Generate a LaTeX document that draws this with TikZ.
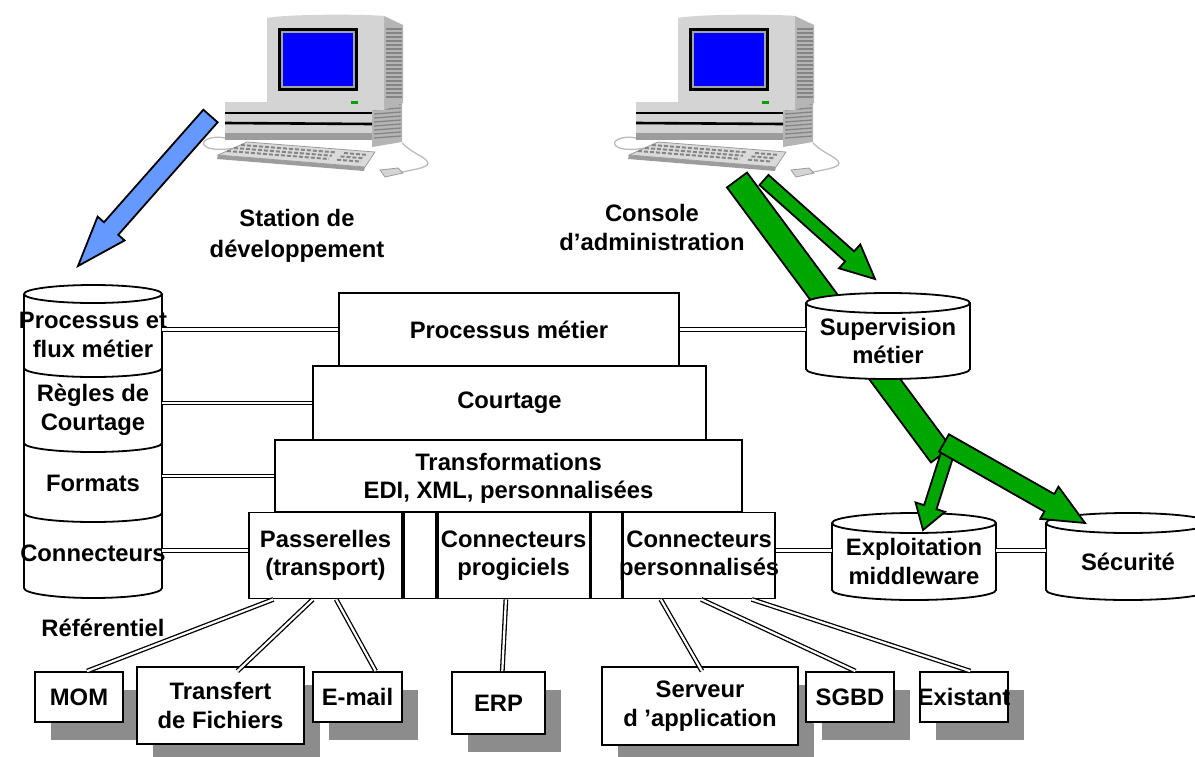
\documentclass[tikz,border=0pt]{standalone}
\usepackage{fontspec}
\setmainfont{Liberation Sans}
\usepackage{tikz}
\usetikzlibrary{positioning,calc,shadows}
\definecolor{ArrowBlue}{HTML}{6699FF}
\definecolor{ArrowGreen}{HTML}{00A600}
\definecolor{ShadowGray}{HTML}{8C8C8C}
\definecolor{ScreenBlue}{HTML}{0000FF}
\definecolor{LedGreen}{HTML}{00A000}
\definecolor{CaseLight}{HTML}{D4D4D4}
\definecolor{CaseSide}{HTML}{B5B5B5}
\definecolor{CaseDark}{HTML}{9C9C9C}
\definecolor{VentGray}{HTML}{858585}
\definecolor{BezelGray}{HTML}{A5A5A5}
\definecolor{KeyGray}{HTML}{DADADA}
\definecolor{CableGray}{HTML}{BBBBBB}

% fat outlined arrow: colour, tail, tip, half shaft, half head, head length
\newcommand\fatarrow[6]{%
  \coordinate (fa-base) at ($#3!#6!#2$);
  \filldraw[fill=#1,draw=black,line width=1.8pt,line join=miter]
    ($#2!#4!90:#3$) -- ($(fa-base)!#4!90:#3$) -- ($(fa-base)!#5!90:#3$) -- #3
    -- ($(fa-base)!#5!-90:#3$) -- ($(fa-base)!#4!-90:#3$) -- ($#2!#4!-90:#3$) -- cycle;}
% fat bar without head: colour, from, to, half width
\newcommand\fatbar[4]{%
  \filldraw[fill=#1,draw=black,line width=1.8pt]
    ($#2!#4!90:#3$) -- ($#3!#4!-90:#2$) -- ($#3!#4!90:#2$) -- ($#2!#4!-90:#3$) -- cycle;}
% database drum: name, centre x, top y, bottom y, x radius, y radius, text
\newcommand\dbcyl[7]{%
  \draw[line width=1.8pt,fill=white] ({#2-#5},#3) -- ({#2-#5},#4)
    arc[start angle=180,end angle=0,x radius=#5,y radius=#6] -- ({#2+#5},#3)
    arc[start angle=0,end angle=-180,x radius=#5,y radius=#6] -- cycle
    ({#2-#5},#3) arc[start angle=180,end angle=0,x radius=#5,y radius=#6];
  \node[align=center,inner sep=0pt,minimum width={2*#5},minimum height={#4-#3}]
    (#1) at (#2,{(#3+#4)/2+#6/2}) {#7};}

\tikzset{
  computer/.pic={
    % system unit
    \fill[CaseSide] (105,91) -- (135,87) -- (135,129) -- (105,134) -- cycle;
    \foreach \v in {93,97,...,125} \draw[VentGray,line width=1.3pt] (107,\v) -- (134,\v-2);
    \fill[CaseLight] (-42,89) rectangle (105,127);
    \fill[CaseDark] (-42,120) rectangle (105,127);
    \draw[black,line width=2pt] (-42,100) -- (105,100);
    \draw[black,line width=2.6pt] (-42,110) -- (105,111);
    % monitor
    \fill[CaseSide] (117,3) -- (136,12) -- (136,90) -- (117,97) -- cycle;
    \foreach \v in {16,20,...,86} \draw[VentGray,line width=1.3pt] (119,\v) -- (135,\v);
    \fill[CaseLight] (0,97) -- (0,5) .. controls (20,1) and (97,1) .. (117,3) -- (117,97) -- cycle;
    \fill[black] (11,15) rectangle (91,78);
    \fill[BezelGray] (14,18) rectangle (88,75);
    \fill[ScreenBlue] (16,20) rectangle (86,73);
    \fill[LedGreen] (84,88) rectangle (91,91);
    % keyboard and mouse
    \draw[CableGray,line width=1.3pt] (-42,125) .. controls (-55,122) and (-68,128) .. (-62,133)
      .. controls (-57,138) and (-38,137) .. (-22,133);
    \draw[CableGray,line width=1.3pt] (135,159) .. controls (150,156) and (165,154) .. (160,148)
      .. controls (156,143) and (145,140) .. (135,130);
    \fill[CaseDark] (-49,142) -- (98,154) -- (97,158) -- (-50,146) -- cycle;
    \filldraw[fill=KeyGray,draw=CaseDark,line width=0.8pt] (-20,129) -- (108,139) -- (98,154) -- (-49,142) -- cycle;
    \begin{scope}[VentGray,line width=2pt,dash pattern=on 4pt off 2pt]
      \draw (-26,132) -- (69,139.4);
      \draw (-33,135) -- (65,142.7);
      \draw (-40,138) -- (62,146);
      \draw (77,140) -- (99,141.8);
      \draw (73.5,143.4) -- (96.7,145.3);
      \draw (70,146.7) -- (94,148.6);
    \end{scope}
    \filldraw[fill=CaseLight,draw=CaseDark,line width=0.8pt] (113,157) -- (131,155) -- (136,160) -- (118,164) -- cycle;
  }
}

\begin{document}
\begin{tikzpicture}[x=1pt,y=-1pt,font=\bfseries\fontsize{23.8}{28.5}\selectfont]
  \tikzstyle{layer}=[draw,line width=1.8pt,fill=white,inner sep=0pt,align=center]
  \tikzstyle{sysbox}=[layer,drop shadow={shadow xshift=16pt,shadow yshift=-18pt,opacity=1,fill=ShadowGray}]
  \tikzstyle{dbl}=[double,double distance=2.2pt,line width=1.3pt]
  \tikzstyle{lbl}=[align=center,inner sep=0pt]
  \useasboundingbox (0,0) rectangle (1195,756);
  \fill[white] (0,0) rectangle (1195,756);

  % workstations
  \pic at (267,13) {computer};
  \pic at (678,13) {computer};
  \node[lbl,font=\bfseries\fontsize{23.8}{31}\selectfont] (station) at (297,236) {Station de\\développement};
  \node[lbl,font=\bfseries\fontsize{23.8}{29}\selectfont] (console) at (652,227) {Console\\d’administration};

  % main flow from the console, partly hidden by the drum
  \coordinate (admfrom) at (737,180);
  \coordinate (fork) at (941,455);
  \fatbar{ArrowGreen}{(admfrom)}{(fork)}{12.5pt}

  % broker layers
  \node[layer,minimum width=340pt,minimum height=73pt] (procm) at (509,329.5) {Processus métier};
  \node[layer,minimum width=393pt,minimum height=74pt] (court) at (509.5,403) {Courtage};
  \node[layer,minimum width=467pt,minimum height=72pt,font=\bfseries\fontsize{23.8}{27.5}\selectfont] (transf) at (508.5,476) {\\[-6pt]Transformations\\EDI, XML, personnalisées};
  \node[layer,minimum width=153pt,minimum height=86pt] (pass) at (325.5,555.5) {Passerelles\\(transport)};
  \node[layer,minimum width=32pt,minimum height=86pt,right=0pt of pass] (gap1) {};
  \node[layer,minimum width=152pt,minimum height=86pt,right=0pt of gap1] (prog) {Connecteurs\\progiciels};
  \node[layer,minimum width=30pt,minimum height=86pt,right=0pt of prog] (gap2) {};
  \node[layer,minimum width=152pt,minimum height=86pt,right=0pt of gap2] (pers) {\makebox[0pt]{Connecteurs}\\\makebox[0pt]{personnalisés}};

  % repository column
  \draw[line width=1.8pt,fill=white] (24,294) -- (24,588)
    arc[start angle=180,end angle=0,x radius=69,y radius=10] -- (162,294)
    arc[start angle=0,end angle=-180,x radius=69,y radius=9] -- cycle
    (24,294) arc[start angle=180,end angle=0,x radius=69,y radius=9];
  \foreach \y in {368,443,513}
    \draw[line width=1.8pt] (24,\y) arc[start angle=180,end angle=0,x radius=69,y radius=9];
  \node[minimum width=138pt,minimum height=294pt,inner sep=0pt] (ref) at (93,441) {};
  \node[lbl] (refproc) at (93,335) {Processus et\\flux métier};
  \node[lbl] (refrules) at (93,410) {Règles de\\Courtage};
  \node[lbl] (refformats) at (93,483) {Formats};
  \node[lbl] (refconn) at (93,553) {Connecteurs};
  \node[lbl] (reflabel) at (103,628) {Référentiel};

  % monitoring drums
  \dbcyl{sup}{888}{303}{369}{82}{10}{Supervision\\métier}
  \dbcyl{expl}{914}{523}{590}{82}{10}{Exploitation\\middleware}
  \dbcyl{secu}{1128}{523}{590}{82}{10}{Sécurité}

  \draw[dbl] (procm.west) -- (procm.west -| ref.east);
  \draw[dbl] (court.west) -- (court.west -| ref.east);
  \draw[dbl] (transf.west) -- (transf.west -| ref.east);
  \coordinate (rowline) at ([yshift=5pt]pass.west);
  \draw[dbl] (rowline) -- (rowline -| ref.east);
  \draw[dbl] (procm.east) -- (procm.east -| sup.west);
  \draw[dbl] (rowline -| pers.east) -- (rowline -| expl.west);
  \draw[dbl] (rowline -| expl.east) -- (rowline -| secu.west);

  % connected systems
  \node[sysbox,minimum width=88pt,minimum height=50pt] (mom) at (79,697) {MOM};
  \node[sysbox,minimum width=167pt,minimum height=77pt] (ftp) at (220.5,705.5) {Transfert\\de Fichiers};
  \node[sysbox,minimum width=89pt,minimum height=50pt] (mail) at (357.5,697) {E-mail};
  \node[sysbox,minimum width=93pt,minimum height=62pt] (erp) at (498.5,703) {ERP};
  \node[sysbox,minimum width=196pt,minimum height=78pt] (appsrv) at (700,706) {Serveur\\d ’application};
  \node[sysbox,minimum width=88pt,minimum height=50pt] (sgbd) at (850,697) {SGBD};
  \node[sysbox,minimum width=88pt,minimum height=50pt] (legacy) at (964,697) {\makebox[0pt]{Existant}};

  \draw[dbl] ($(pass.south west)!0.163!(pass.south east)$) -- ($(mom.north west)!0.59!(mom.north east)$);
  \draw[dbl] ($(pass.south west)!0.418!(pass.south east)$) -- ($(ftp.north west)!0.6!(ftp.north east)+(0,5)$);
  \draw[dbl] ($(pass.south west)!0.569!(pass.south east)$) -- ($(mail.north west)!0.7!(mail.north east)$);
  \draw[dbl] ($(prog.south west)!0.45!(prog.south east)$) -- ($(erp.north west)!0.54!(erp.north east)$);
  \draw[dbl] ($(pers.south west)!0.25!(pers.south east)$) -- ($(appsrv.north west)!0.51!(appsrv.north east)+(0,5)$);
  \draw[dbl] ($(pers.south west)!0.513!(pers.south east)$) -- ($(sgbd.north west)!0.56!(sgbd.north east)$);
  \draw[dbl] ($(pers.south west)!0.842!(pers.south east)$) -- ($(legacy.north west)!0.57!(legacy.north east)$);

  % flows
  \coordinate (supfrom) at (764,180);
  \coordinate (supto) at (875,279);
  \fatarrow{ArrowGreen}{(supfrom)}{(supto)}{6.75pt}{16pt}{34pt}
  \coordinate (explfrom) at (947,455);
  \coordinate (explto) at (923,530);
  \fatarrow{ArrowGreen}{(explfrom)}{(explto)}{6.5pt}{15.5pt}{24pt}
  \coordinate (secufrom) at (944,443);
  \coordinate (secuto) at (1085,523);
  \fatarrow{ArrowGreen}{(secufrom)}{(secuto)}{10pt}{18.5pt}{41pt}
  \coordinate (devfrom) at (210.5,116);
  \coordinate (devto) at (78,266);
  \fatarrow{ArrowBlue}{(devfrom)}{(devto)}{9.5pt}{18pt}{50pt}
\end{tikzpicture}
\end{document}
